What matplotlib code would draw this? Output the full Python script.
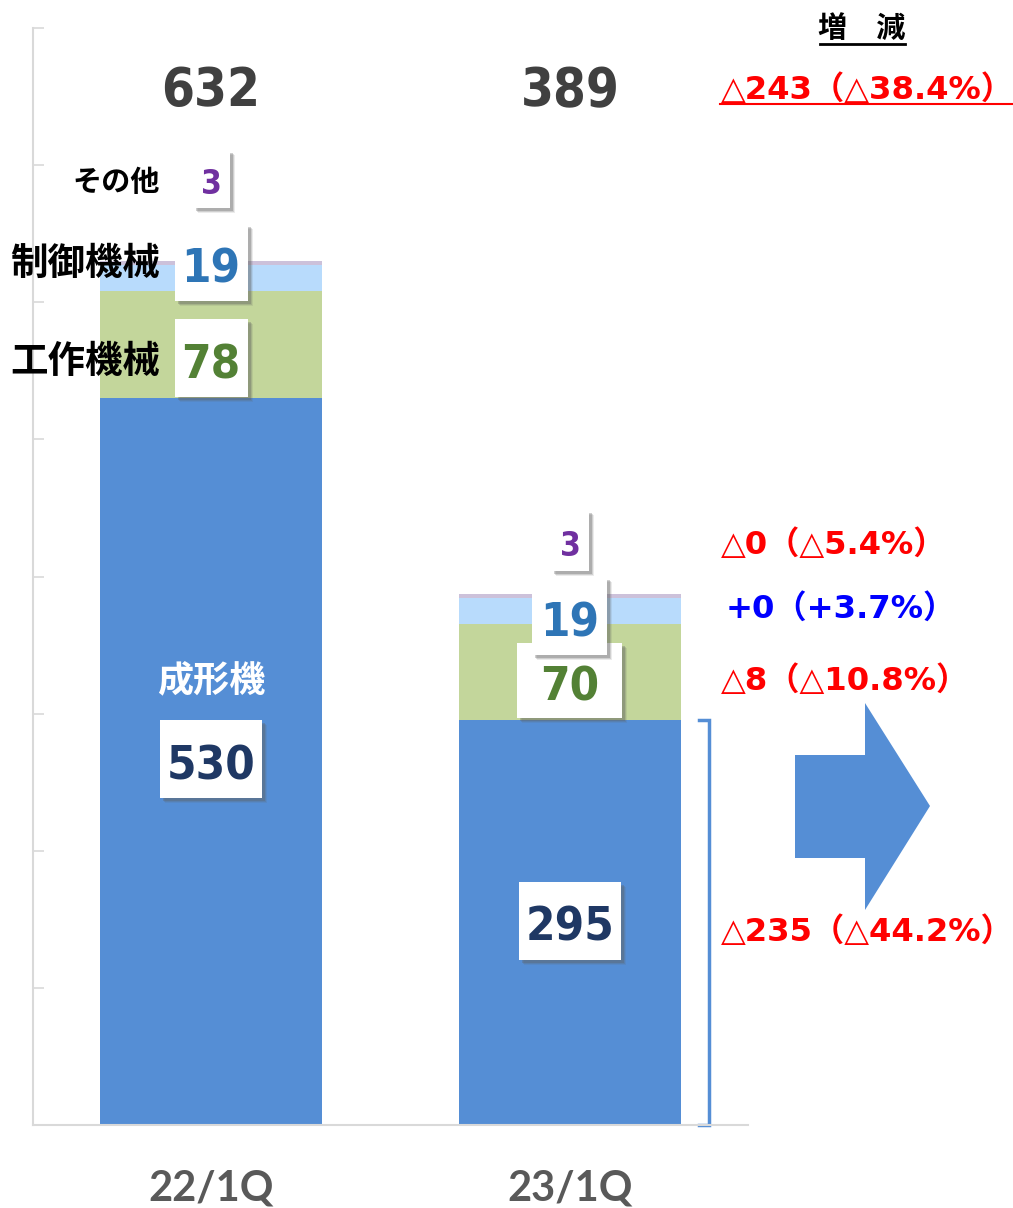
import matplotlib.pyplot as plt
from matplotlib.lines import Line2D
from matplotlib.patches import Polygon, Rectangle
from matplotlib.transforms import ScaledTranslation

plt.rcParams['font.family'] = ['DejaVu Sans', 'Noto Sans CJK JP']

# data
periods = ['22/1Q', '23/1Q']
series = ['成形機', '工作機械', '制御機械', 'その他']
molding = [530, 295]
machine_tools = [78, 70]
control = [19, 19]
others = [3, 3]
totals = [632, 389]
diff_texts = ['△243（△38.4%）', '△0（△5.4%）', '+0（+3.7%）', '△8（△10.8%）', '△235（△44.2%）']

colors = ['#558ED5', '#C3D69B', '#B8DBFC', '#CCC1DA']
num_colors = ['#1F3864', '#538135', '#2E75B6', '#7030A0']

fig = plt.figure(figsize=(10.13, 12.08), dpi=100)
ax = fig.add_axes([33 / 1013, 83 / 1208, 715 / 1013, 1097 / 1208])

x = [0, 1]
bottom = [0, 0]
for vals, c in zip([molding, machine_tools, control, others], colors):
    ax.bar(x, vals, width=0.621, bottom=bottom, color=c, edgecolor='none')
    bottom = [b + v for b, v in zip(bottom, vals)]

ax.set_xlim(-0.496, 1.496)
ax.set_ylim(0, 800)
ax.set_yticks(range(0, 801, 100))
ax.set_yticklabels([])
ax.set_xticks([])
ax.tick_params(axis='y', direction='in', length=8, color='#D9D9D9', width=1.2)
for s in ['top', 'right']:
    ax.spines[s].set_visible(False)
for s in ['left', 'bottom']:
    ax.spines[s].set_color('#D9D9D9')
    ax.spines[s].set_linewidth(1.5)


def box_label(xp, yp, txt, color, size, w, h, z):
    # white box (size in px) with a soft shadow, centred on the data point
    tr = fig.dpi_scale_trans + ScaledTranslation(xp, yp, ax.transData)
    for off, a in [(5, 0.12), (4, 0.2), (3, 0.3)]:
        ax.add_patch(Rectangle(((-w / 2 + off) / 100, (-h / 2 - off) / 100), w / 100, h / 100,
                               transform=tr, fc='#606060', ec='none', alpha=a, zorder=z,
                               clip_on=False))
    ax.add_patch(Rectangle((-w / 2 / 100, -h / 2 / 100), w / 100, h / 100, transform=tr,
                           fc='white', ec='none', zorder=z + 0.1, clip_on=False))
    digit_h = 0.729 * size * 100 / 72
    ax.annotate(txt, (xp, yp), xytext=(0, -(digit_h / 2 + 3)), textcoords='offset pixels',
                ha='center', va='baseline', fontsize=size, fontweight='bold',
                color=color, fontstretch='condensed', zorder=z + 0.2)


# label layout: y in data units, box sizes in px
label_y = [[267, 559, 629, 690], [149, 324, 371, 426]]
label_size = [34, 34, 34, 24]
box_w = [[102, 73, 73, 37], [102, 105, 75, 38]]
box_h = [[78, 78, 77, 58], [78, 75, 78, 61]]
all_vals = [molding, machine_tools, control, others]
for i in range(2):
    for k in range(4):
        box_label(x[i], label_y[i][k], str(all_vals[k][i]), num_colors[k], label_size[k],
                  box_w[i][k], box_h[i][k], 5 + k)

ax.text(0, 324, series[0], ha='center', va='center', color='white', fontsize=26,
        fontweight='bold', family='Noto Sans CJK JP')
name_y = [557, 628, 688]
name_size = [27, 27, 21]
for k in range(1, 4):
    ax.text(-0.142, name_y[k - 1], series[k], ha='right', va='center', color='black',
            fontsize=name_size[k - 1], fontweight='bold', family='Noto Sans CJK JP')

for i in range(2):
    ax.text(x[i], 754, str(totals[i]), ha='center', va='center', fontsize=38,
            fontweight='bold', color='#404040', fontstretch='condensed')
    ax.text(x[i], -46, periods[i], ha='center', va='center', fontsize=30,
            fontweight='bold', color='#595959', family='Lato', clip_on=False)

# bracket beside 23/1Q molding segment
ax.plot([1.36, 1.386, 1.386, 1.36], [molding[1], molding[1], 0, 0], color='#558ED5',
        lw=2.5, clip_on=False, solid_joinstyle='miter')

# right-hand change column
W, H = 1013, 1208


def fy(py):
    return 1 - py / H


fig.text(862 / W, fy(28), '増　減', ha='center', va='center', fontsize=21,
         fontweight='bold', family='Noto Sans CJK JP')
fig.add_artist(Line2D([820 / W, 905 / W], [fy(44), fy(44)], color='black', lw=2))

diff_pos = [90, 545, 609, 681, 932]
diff_colors = ['#FF0000', '#FF0000', '#0000FF', '#FF0000', '#FF0000']
diff_x = [721, 721, 726, 721, 721]
for t, py, c, px in zip(diff_texts, diff_pos, diff_colors, diff_x):
    fig.text(px / W, fy(py), t, ha='left', va='center', fontsize=23.2, fontweight='bold',
             color=c)
fig.add_artist(Line2D([720 / W, 1013 / W], [fy(104), fy(104)], color='#FF0000', lw=1.5))

arrow = [(795, 755), (865, 755), (865, 703), (930, 806), (865, 910), (865, 858), (795, 858)]
fig.add_artist(Polygon([(px / W, fy(py)) for px, py in arrow], closed=True,
                       transform=fig.transFigure, fc='#558ED5', ec='none'))

fig.savefig('out.png', dpi=100)
